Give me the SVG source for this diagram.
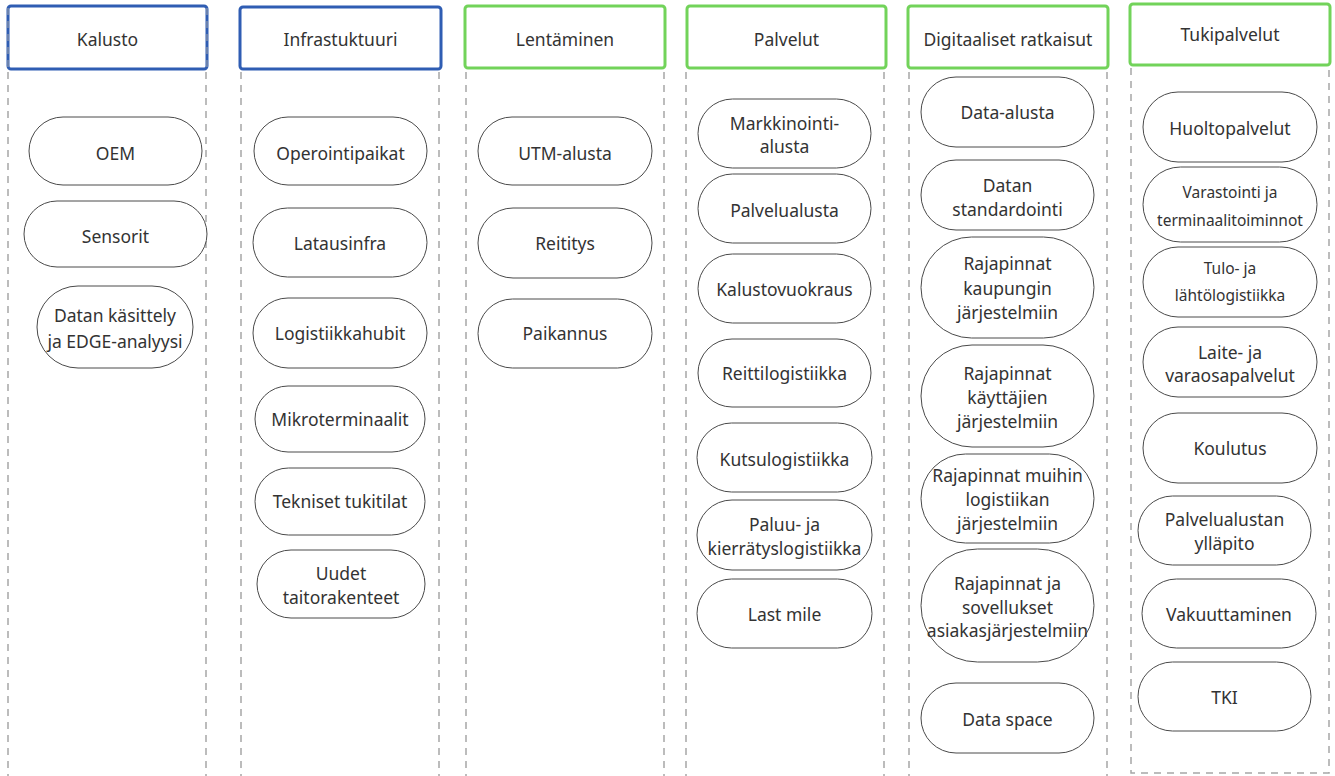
<svg xmlns="http://www.w3.org/2000/svg" width="1335" height="776" viewBox="0 0 1335 776">
<style>
.bg{fill:#ffffff}
.lane{stroke:#a6a6a6;stroke-width:1.5;stroke-dasharray:7 6;fill:none}
.hb{fill:#ffffff;stroke:#2f5db3;stroke-width:3}
.hg{fill:#ffffff;stroke:#72d35a;stroke-width:3}
.n{fill:#ffffff;stroke:#4a4a4a;stroke-width:1}
text{font-family:"Noto Sans","Open Sans","DejaVu Sans",sans-serif;font-size:17.5px;fill:#333333;text-anchor:middle;dominant-baseline:central}
.s{font-size:15.5px}
</style>
<rect class="bg" x="0" y="0" width="1335" height="776"/>
<g id="lanes">
<line class="lane" x1="8" y1="72" x2="8" y2="776"/>
<line class="lane" x1="206" y1="72" x2="206" y2="776"/>
<line class="lane" x1="241" y1="72" x2="241" y2="776"/>
<line class="lane" x1="439" y1="72" x2="439" y2="776"/>
<line class="lane" x1="466" y1="72" x2="466" y2="776"/>
<line class="lane" x1="664" y1="72" x2="664" y2="776"/>
<line class="lane" x1="686" y1="72" x2="686" y2="776"/>
<line class="lane" x1="884" y1="72" x2="884" y2="776"/>
<line class="lane" x1="909" y1="72" x2="909" y2="776"/>
<line class="lane" x1="1107" y1="72" x2="1107" y2="776"/>
<path class="lane" d="M1131,68 V773 H1329 V68"/>
</g>
<g id="h-kalusto"><rect class="hb" x="8" y="6" width="199" height="63" rx="3"/><line class="lane" x1="8" y1="8" x2="8" y2="68" style="stroke-width:1"/><line class="lane" x1="207" y1="8" x2="207" y2="68" style="stroke-width:1"/><text x="107.5" y="39">Kalusto</text></g>
<g id="h-infra"><rect class="hb" x="240" y="7" width="201" height="62" rx="3"/><text x="340.5" y="39">Infrastuktuuri</text></g>
<g id="h-lentaminen"><rect class="hg" x="465" y="6" width="200" height="62" rx="3"/><text x="565" y="39">Lentäminen</text></g>
<g id="h-palvelut"><rect class="hg" x="687" y="6" width="199" height="62" rx="3"/><text x="786.5" y="39">Palvelut</text></g>
<g id="h-digi"><rect class="hg" x="908" y="6" width="200" height="62" rx="3"/><text x="1008" y="39">Digitaaliset ratkaisut</text></g>
<g id="h-tuki"><rect class="hg" x="1130" y="4" width="200" height="61" rx="3"/><text x="1230" y="34">Tukipalvelut</text></g>

<g id="n-oem"><rect class="n" x="29" y="117" width="173" height="68" rx="34"/><text x="115.5" y="153">OEM</text></g>
<g id="n-sensorit"><rect class="n" x="24" y="201" width="183" height="66" rx="33"/><text x="115.5" y="236">Sensorit</text></g>
<g id="n-datan-kasittely"><rect class="n" x="37" y="286" width="156" height="82" rx="41"/><text x="115" y="315">Datan käsittely</text><text x="115" y="341">ja EDGE-analyysi</text></g>

<g id="n-operointipaikat"><rect class="n" x="254" y="117" width="173" height="68" rx="34"/><text x="340.5" y="153">Operointipaikat</text></g>
<g id="n-latausinfra"><rect class="n" x="253" y="208" width="174" height="69" rx="34.5"/><text x="340" y="243">Latausinfra</text></g>
<g id="n-logistiikkahubit"><rect class="n" x="253" y="298" width="174" height="70" rx="35"/><text x="340" y="333">Logistiikkahubit</text></g>
<g id="n-mikroterminaalit"><rect class="n" x="255" y="386" width="170" height="66" rx="33"/><text x="340" y="419">Mikroterminaalit</text></g>
<g id="n-tekniset"><rect class="n" x="255" y="468" width="170" height="67" rx="33.5"/><text x="340" y="501">Tekniset tukitilat</text></g>
<g id="n-uudet"><rect class="n" x="257" y="550" width="168" height="68" rx="34"/><text x="341" y="573">Uudet</text><text x="341" y="597">taitorakenteet</text></g>

<g id="n-utm"><rect class="n" x="478" y="117" width="174" height="68" rx="34"/><text x="565" y="153">UTM-alusta</text></g>
<g id="n-reititys"><rect class="n" x="478" y="208" width="174" height="70" rx="35"/><text x="565" y="243">Reititys</text></g>
<g id="n-paikannus"><rect class="n" x="478" y="299" width="174" height="69" rx="34.5"/><text x="565" y="333">Paikannus</text></g>

<g id="n-markkinointi"><rect class="n" x="698" y="99" width="173" height="69" rx="34.5"/><text x="784.5" y="123">Markkinointi-</text><text x="784.5" y="146">alusta</text></g>
<g id="n-palvelualusta"><rect class="n" x="698" y="174" width="173" height="69" rx="34.5"/><text x="784.5" y="210">Palvelualusta</text></g>
<g id="n-kalustovuokraus"><rect class="n" x="698" y="254" width="173" height="69" rx="34.5"/><text x="784.5" y="289">Kalustovuokraus</text></g>
<g id="n-reittilogistiikka"><rect class="n" x="698" y="339" width="173" height="68" rx="34"/><text x="784.5" y="373">Reittilogistiikka</text></g>
<g id="n-kutsulogistiikka"><rect class="n" x="697" y="423" width="175" height="69" rx="34.5"/><text x="784.5" y="459">Kutsulogistiikka</text></g>
<g id="n-paluu"><rect class="n" x="697" y="500" width="175" height="70" rx="35"/><text x="784.5" y="524">Paluu- ja</text><text x="784.5" y="548">kierrätyslogistiikka</text></g>
<g id="n-lastmile"><rect class="n" x="697" y="579" width="175" height="69" rx="34.5"/><text x="784.5" y="614">Last mile</text></g>

<g id="n-data-alusta"><rect class="n" x="921" y="77" width="173" height="70" rx="35"/><text x="1007.5" y="112">Data-alusta</text></g>
<g id="n-standardointi"><rect class="n" x="921" y="160" width="173" height="70" rx="35"/><text x="1007.5" y="185">Datan</text><text x="1007.5" y="209">standardointi</text></g>
<g id="n-raja-kaupunki"><rect class="n" x="921" y="237" width="173" height="101" rx="50.5"/><text x="1007.5" y="263">Rajapinnat</text><text x="1007.5" y="288">kaupungin</text><text x="1007.5" y="312">järjestelmiin</text></g>
<g id="n-raja-kayttajat"><rect class="n" x="921" y="345" width="173" height="102" rx="51"/><text x="1007.5" y="373">Rajapinnat</text><text x="1007.5" y="397">käyttäjien</text><text x="1007.5" y="421">järjestelmiin</text></g>
<g id="n-raja-muut"><rect class="n" x="921" y="454" width="173" height="89" rx="44.5"/><text x="1007.5" y="475">Rajapinnat muihin</text><text x="1007.5" y="499">logistiikan</text><text x="1007.5" y="523">järjestelmiin</text></g>
<g id="n-raja-asiakas"><rect class="n" x="921" y="549" width="173" height="113" rx="56.5"/><text x="1007.5" y="583">Rajapinnat ja</text><text x="1007.5" y="607">sovellukset</text><text x="1007.5" y="630">asiakasjärjestelmiin</text></g>
<g id="n-dataspace"><rect class="n" x="921" y="683" width="173" height="70" rx="35"/><text x="1007.5" y="719">Data space</text></g>

<g id="n-huolto"><rect class="n" x="1143" y="92" width="174" height="70" rx="35"/><text x="1230" y="128">Huoltopalvelut</text></g>
<g id="n-varastointi"><rect class="n" x="1143" y="167" width="174" height="75" rx="37.5"/><text class="s" x="1230" y="192">Varastointi ja</text><text class="s" x="1230" y="220">terminaalitoiminnot</text></g>
<g id="n-tulo"><rect class="n" x="1143" y="247" width="174" height="70" rx="35"/><text class="s" x="1230" y="268">Tulo- ja</text><text class="s" x="1230" y="295">lähtölogistiikka</text></g>
<g id="n-laite"><rect class="n" x="1143" y="327" width="174" height="70" rx="35"/><text x="1230" y="352">Laite- ja</text><text x="1230" y="375">varaosapalvelut</text></g>
<g id="n-koulutus"><rect class="n" x="1143" y="413" width="174" height="70" rx="35"/><text x="1230" y="448">Koulutus</text></g>
<g id="n-yllapito"><rect class="n" x="1138" y="496" width="173" height="69" rx="34.5"/><text x="1224.5" y="519">Palvelualustan</text><text x="1224.5" y="543">ylläpito</text></g>
<g id="n-vakuuttaminen"><rect class="n" x="1142" y="579" width="174" height="69" rx="34.5"/><text x="1229" y="614">Vakuuttaminen</text></g>
<g id="n-tki"><rect class="n" x="1138" y="662" width="173" height="69" rx="34.5"/><text x="1224.5" y="697">TKI</text></g>
<g id="connectors"></g>
</svg>
